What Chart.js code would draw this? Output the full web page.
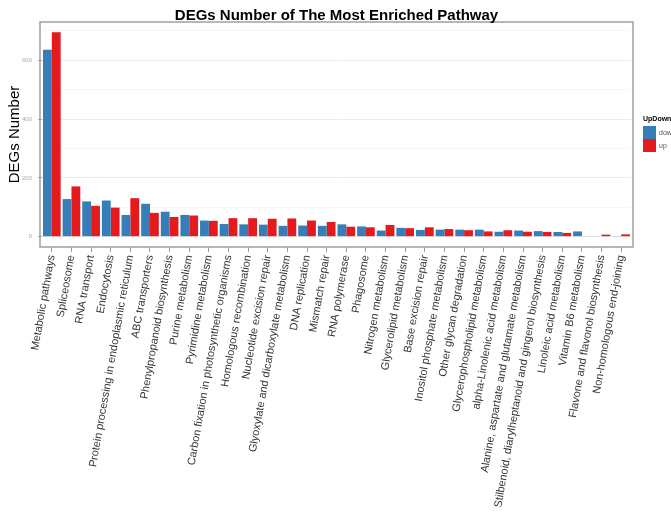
<!DOCTYPE html>
<html>
<head>
<meta charset="utf-8">
<title>DEGs Number of The Most Enriched Pathway</title>
<script src="https://cdn.jsdelivr.net/npm/chart.js@4/dist/chart.umd.min.js"></script>
<style>
  html, body { margin: 0; padding: 0; background: #fff; }
  #wrap { width: 671px; height: 512px; }
</style>
</head>
<body>
<div id="wrap"><canvas id="degChart" width="671" height="512"></canvas></div>
<script>
// KEGG pathways, ordered by number of DEGs
const pathways = [
  'Metabolic pathways', 'Spliceosome', 'RNA transport', 'Endocytosis',
  'Protein processing in endoplasmic reticulum', 'ABC transporters',
  'Phenylpropanoid biosynthesis', 'Purine metabolism', 'Pyrimidine metabolism',
  'Carbon fixation in photosynthetic organisms', 'Homologous recombination',
  'Nucleotide excision repair', 'Glyoxylate and dicarboxylate metabolism',
  'DNA replication', 'Mismatch repair', 'RNA polymerase', 'Phagosome',
  'Nitrogen metabolism', 'Glycerolipid metabolism', 'Base excision repair',
  'Inositol phosphate metabolism', 'Other glycan degradation',
  'Glycerophospholipid metabolism', 'alpha-Linolenic acid metabolism',
  'Alanine, aspartate and glutamate metabolism',
  'Stilbenoid, diarylheptanoid and gingerol biosynthesis',
  'Linoleic acid metabolism', 'Vitamin B6 metabolism',
  'Flavone and flavonol biosynthesis', 'Non-homologous end-joining'
];

const downCounts = [636, 128, 120, 123, 74, 112, 85, 74, 55, 43, 42, 41, 37, 38, 37,
                    42, 35, 21, 30, 23, 24, 24, 24, 17, 21, 19, 16, 18, 2, 1];
const upCounts   = [695, 171, 105, 99, 131, 81, 67, 72, 54, 63, 63, 61, 62, 55, 50,
                    34, 32, 40, 29, 32, 26, 22, 18, 22, 17, 16, 13, 2, 7, 8];

const yBreaks = [0, 100, 200, 300, 400, 500, 600, 700];
const seriesNames = ['down', 'up'];
const seriesColors = ['#377EB8', '#E41A1C'];
const chartTitle = 'DEGs Number of The Most Enriched Pathway';

const FONT = "'Liberation Sans', Arial, Helvetica, sans-serif";
Chart.defaults.font.family = FONT;

// discrete axis gets a bit of extra room on both sides, like ggplot
const PANEL_PAD = 2;

// white page, title and grey panel frame
const panelPlugin = {
  id: 'panel',
  beforeDraw(chart) {
    const ctx = chart.ctx;
    ctx.save();
    ctx.fillStyle = '#fff';
    ctx.fillRect(0, 0, chart.width, chart.height);
    ctx.restore();
  },
  afterDraw(chart) {
    const { ctx, chartArea: a } = chart;
    ctx.save();
    ctx.strokeStyle = '#a0a0a0';
    ctx.lineWidth = 1.5;
    ctx.strokeRect(a.left - PANEL_PAD, a.top, a.right - a.left + 2 * PANEL_PAD, a.bottom - a.top);

    ctx.fillStyle = '#000';
    ctx.font = 'bold 15px ' + FONT;
    ctx.textAlign = 'center';
    ctx.textBaseline = 'alphabetic';
    ctx.fillText(chartTitle, (a.left + a.right) / 2, 20);
    ctx.restore();
  }
};

// ggplot-like legend on the right side
const legendPlugin = {
  id: 'upDownLegend',
  afterDraw(chart) {
    const ctx = chart.ctx;
    const x = 643, y = 119;
    ctx.save();
    ctx.textBaseline = 'middle';
    ctx.fillStyle = '#000';
    ctx.font = 'bold 7px ' + FONT;
    ctx.fillText('UpDown', x, y);
    seriesNames.forEach((name, i) => {
      const ky = y + 7 + i * 13;
      ctx.fillStyle = seriesColors[i];
      ctx.fillRect(x, ky, 13, 13);
      ctx.fillStyle = '#555';
      ctx.font = '7px ' + FONT;
      ctx.fillText(name, x + 16, ky + 7);
    });
    ctx.restore();
  }
};

new Chart(document.getElementById('degChart'), {
  type: 'bar',
  data: {
    labels: pathways,
    datasets: [
      { label: seriesNames[0], data: downCounts, backgroundColor: seriesColors[0] },
      { label: seriesNames[1], data: upCounts, backgroundColor: seriesColors[1] }
    ]
  },
  options: {
    responsive: false,
    animation: false,
    devicePixelRatio: 1,
    categoryPercentage: 0.9,
    barPercentage: 1.0,
    layout: { padding: { left: 0, right: 40, top: 22, bottom: 0 } },
    plugins: {
      legend: { display: false },
      tooltip: { enabled: false },
      title: { display: false }
    },
    scales: {
      x: {
        border: { display: false },
        grid: { drawOnChartArea: false, offset: false, tickLength: 5, color: '#999' },
        ticks: {
          autoSkip: false,
          minRotation: 80,
          maxRotation: 80,
          padding: 2,
          color: '#333',
          font: { size: 11 }
        },
        afterFit(scale) {
          scale.height = 265;
          scale.paddingLeft = 0;
          scale.paddingRight = 0;
        }
      },
      y: {
        min: -35,
        max: 730,
        border: { display: false },
        afterBuildTicks(axis) {
          axis.ticks = yBreaks.map(v => ({ value: v }));
        },
        grid: {
          tickLength: 4,
          color: c => (c.tick && c.tick.value % 200 === 0) ? '#ececec' : '#f6f6f6',
          tickColor: c => (c.tick && c.tick.value % 200 === 0) ? '#aaa' : 'rgba(0,0,0,0)'
        },
        ticks: {
          padding: 6,
          color: '#aaa',
          font: { size: 6 },
          callback: v => (v % 200 === 0 ? v : '')
        },
        title: {
          display: true,
          text: 'DEGs Number',
          color: '#000',
          font: { size: 15 },
          padding: { top: 6, bottom: 0 }
        },
        afterFit(scale) {
          scale.width = 42;
        }
      }
    }
  },
  plugins: [panelPlugin, legendPlugin]
});
</script>
</body>
</html>
